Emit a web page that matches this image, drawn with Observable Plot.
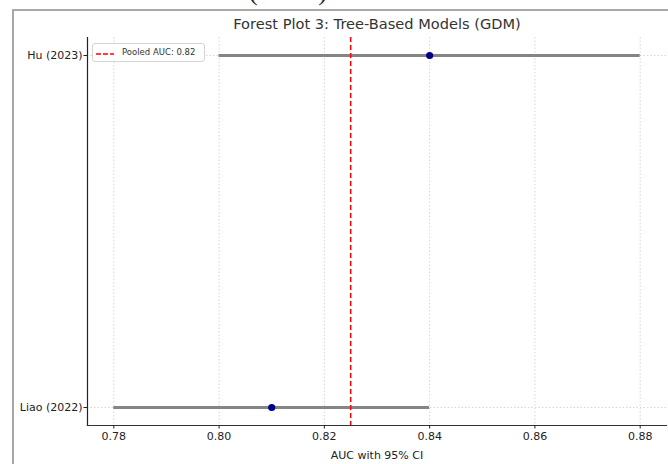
<!DOCTYPE html>
<html>
<head>
<meta charset="utf-8">
<script src="https://cdn.jsdelivr.net/npm/d3@7"></script>
<script src="https://cdn.jsdelivr.net/npm/@observablehq/plot@0.6"></script>
<style>
  html, body { margin: 0; padding: 0; background: #fff; }
  #wrap { position: relative; width: 668px; height: 464px; overflow: hidden; background: #fff; font-family: "DejaVu Sans", sans-serif; }
  #clipped { position: absolute; left: 39px; top: -21px; font-family: "Liberation Serif", serif; font-size: 26px; color: #222; white-space: nowrap; line-height: 26px; }
  #border { position: absolute; left: 12px; top: 9px; width: 720px; height: 520px; border: 2px solid #a8a8a8; box-sizing: border-box; }
  #chart { position: absolute; left: 0; top: 0; }
  #title { position: absolute; left: 377px; top: 15px; transform: translateX(-50%); font-size: 14.6px; color: #333; white-space: nowrap; line-height: 18px; }
  #legend { position: absolute; left: 92px; top: 43px; width: 113px; height: 19px; box-sizing: border-box; border: 1px solid #d4d4d4; border-radius: 3px; background: rgba(255,255,255,0.85); font-size: 8.5px; color: #333; }
  #legend svg { position: absolute; left: 2px; top: 8px; }
  #legend span { position: absolute; left: 29px; top: 3px; white-space: nowrap; line-height: 11px; }
</style>
</head>
<body>
<div id="wrap">
  <div id="clipped"></div>
  <div id="border"></div>
  <div id="chart"></div>
  <div id="title"></div>
  <div id="legend"><svg width="20" height="4"><line x1="1" y1="2" x2="19" y2="2" stroke="red" stroke-width="1.5" stroke-dasharray="5,2"></line></svg><span></span></div>
</div>
<script>
// ---- data ----
const studies = ["Hu (2023)", "Liao (2022)"];
const auc = [0.84, 0.81];
const ciLow = [0.80, 0.78];
const ciHigh = [0.88, 0.84];
const pooledAUC = [0.825];
const pooledLabel = "Pooled AUC: 0.82";
const xTicks = [0.78, 0.80, 0.82, 0.84, 0.86, 0.88];
const xDomain = [0.775, 0.885];
const titleText = "Forest Plot 3: Tree-Based Models (GDM)";
const xLabel = "AUC with 95% CI";
const clippedHeading = "Tree-Based Models (GDM)";

const rows = studies.map((s, i) => ({study: s, auc: auc[i], lo: ciLow[i], hi: ciHigh[i]}));

document.getElementById("clipped").textContent = clippedHeading;
document.getElementById("title").textContent = titleText;
document.querySelector("#legend span").textContent = pooledLabel;

const chart = Plot.plot({
  width: 668,
  height: 464,
  marginLeft: 87,
  marginRight: 2,
  marginTop: 37,
  marginBottom: 39,
  style: {background: "transparent", fontFamily: "DejaVu Sans, sans-serif", fontSize: "11px", color: "#222", overflow: "visible"},
  x: {domain: xDomain},
  y: {type: "point", domain: studies, padding: 0.05},
  marks: [
    Plot.gridX(xTicks, {stroke: "#bbb", strokeOpacity: 0.6, strokeDasharray: "1.5,2"}),
    Plot.gridY(studies, {stroke: "#bbb", strokeOpacity: 0.6, strokeDasharray: "1.5,2"}),
    Plot.ruleY(rows, {y: "study", x1: "lo", x2: "hi", stroke: "#858585", strokeWidth: 3}),
    Plot.dot(rows, {x: "auc", y: "study", r: 3.6, fill: "#00008b", stroke: null}),
    Plot.ruleX(pooledAUC, {stroke: "red", strokeWidth: 1.5, strokeDasharray: "5,3"}),
    Plot.frame({anchor: "left", stroke: "#222", strokeWidth: 1.2}),
    Plot.frame({anchor: "bottom", stroke: "#333", strokeWidth: 1.2}),
    Plot.axisX({ticks: xTicks, tickFormat: d3.format(".2f"), tickSize: 3.5, tickPadding: 3, label: xLabel, labelAnchor: "center", labelArrow: "none", labelOffset: 33, fontSize: 11}),
    Plot.axisY({tickSize: 3.5, tickPadding: 1.5, label: null, fontSize: 11})
  ]
});
document.getElementById("chart").appendChild(chart);
</script>
</body>
</html>
